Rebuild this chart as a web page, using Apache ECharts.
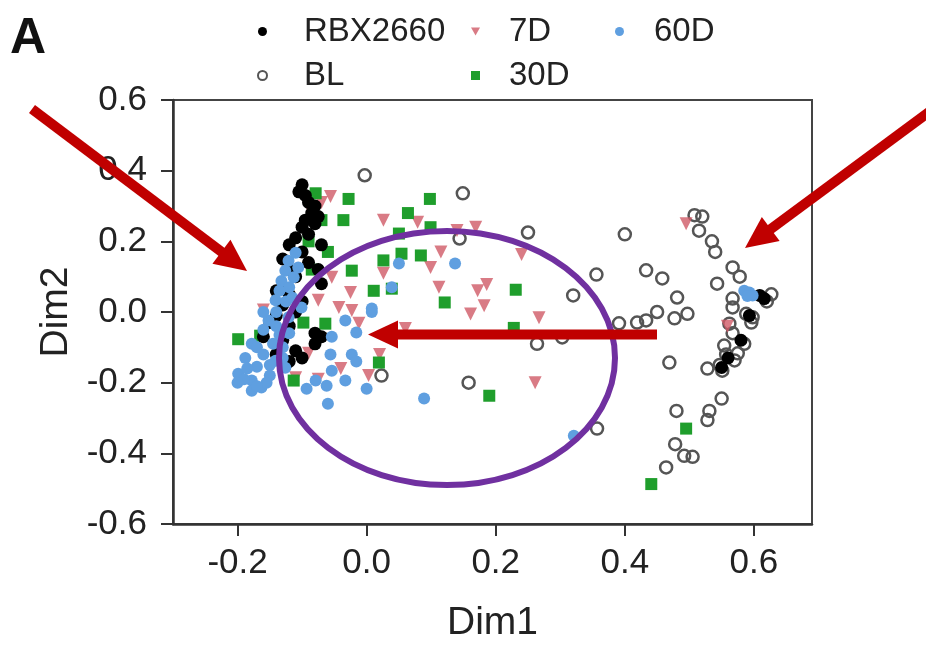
<!DOCTYPE html>
<html lang="en">
<head>
    <meta charset="utf-8" />
    <title>PCoA</title>
    <style>
        html, body { width: 100%; height: 100%; margin: 0; background: #fff; }
        #main { width: 926px; height: 646px; }
    </style>
</head>
<body>
    <div id="main"></div>
    <script src="https://cdn.jsdelivr.net/npm/echarts@6/dist/echarts.min.js"></script>
    <script type="text/javascript">
        // values, [Dim1, Dim2]
        var rbxPts = [
            [-0.10, 0.36], [-0.105, 0.34], [-0.095, 0.33], [-0.09, 0.31], [-0.08, 0.30], [-0.085, 0.28],
            [-0.075, 0.27], [-0.095, 0.26], [-0.08, 0.25], [-0.10, 0.24], [-0.09, 0.22], [-0.11, 0.21],
            [-0.07, 0.19], [-0.12, 0.19], [-0.10, 0.17], [-0.13, 0.15], [-0.09, 0.14], [-0.075, 0.12],
            [-0.12, 0.12], [-0.11, 0.10], [-0.07, 0.08], [-0.13, 0.07], [-0.12, 0.05], [-0.14, 0.06],
            [-0.10, 0.03], [-0.13, 0.02], [-0.11, 0.0], [-0.14, -0.01], [-0.15, -0.03], [-0.12, -0.04],
            [-0.08, -0.06], [-0.16, -0.07], [-0.07, -0.07], [-0.13, -0.08], [-0.08, -0.09], [-0.11, -0.11],
            [-0.14, -0.12], [-0.12, -0.14], [-0.126, -0.15], [-0.10, -0.13],
            [0.609, 0.047], [0.616, 0.038], [0.593, -0.01], [0.55, -0.157], [0.58, -0.08], [0.56, -0.13]
        ];
        var blPts = [
            [-0.003, 0.387], [0.149, 0.336], [0.144, 0.208], [0.25, 0.225], [0.40, 0.22], [0.356, 0.106],
            [0.32, 0.047], [0.264, -0.09], [0.303, -0.072], [0.391, -0.032], [0.419, -0.03], [0.433, -0.024],
            [0.45, 0.0], [0.477, -0.018], [0.497, -0.005], [0.433, 0.118], [0.458, 0.095], [0.481, 0.041],
            [0.469, -0.143], [0.357, -0.33], [0.023, -0.18], [0.158, -0.2],
            [0.508, 0.274], [0.52, 0.27], [0.515, 0.23], [0.535, 0.20], [0.54, 0.17], [0.567, 0.126],
            [0.578, 0.10], [0.543, 0.08], [0.627, 0.05], [0.62, 0.03], [0.567, 0.038], [0.567, 0.013],
            [0.588, -0.005], [0.598, -0.015], [0.596, -0.03], [0.562, -0.033], [0.567, -0.06], [0.554, -0.095],
            [0.585, -0.09], [0.557, -0.12], [0.575, -0.117], [0.57, -0.137], [0.547, -0.15], [0.528, -0.16],
            [0.551, -0.166], [0.48, -0.28], [0.531, -0.28], [0.55, -0.245], [0.528, -0.306], [0.478, -0.374],
            [0.492, -0.407], [0.505, -0.41], [0.464, -0.44]
        ];
        var d7Pts = [
            [-0.056, 0.327], [0.026, 0.26], [0.079, 0.254], [0.14, 0.231], [0.169, 0.24], [0.115, 0.17],
            [0.099, 0.126], [0.24, 0.163], [0.112, 0.07], [0.186, 0.078], [0.172, 0.06], [0.182, 0.018],
            [0.026, 0.11], [-0.054, 0.098], [-0.16, 0.006], [-0.075, 0.033], [-0.025, 0.055], [0.161, -0.006],
            [-0.043, 0.013], [-0.023, 0.004], [-0.012, -0.032], [-0.09, -0.117], [0.003, -0.18], [-0.075, -0.19],
            [0.06, -0.047], [-0.11, -0.186], [0.267, -0.016], [0.261, -0.2], [0.495, 0.25], [0.559, -0.04],
            [-0.04, -0.16], [0.02, -0.12], [-0.085, 0.28], [-0.07, 0.31]
        ];
        var d30Pts = [
            [-0.079, 0.336], [-0.028, 0.32], [0.098, 0.32], [0.064, 0.28], [-0.036, 0.26], [-0.07, 0.26],
            [0.099, 0.24], [0.05, 0.222], [0.084, 0.16], [0.054, 0.165], [0.026, 0.146], [-0.023, 0.117],
            [0.011, 0.06], [0.039, 0.066], [0.121, 0.027], [0.231, 0.063], [0.228, -0.045], [0.19, -0.237],
            [0.495, -0.33], [0.441, -0.487], [-0.199, -0.077], [-0.165, -0.067], [-0.098, -0.03], [-0.064, -0.033],
            [-0.113, -0.194], [0.019, -0.143], [-0.09, 0.2], [-0.085, 0.12], [-0.06, 0.17]
        ];
        var d60Pts = [
            [-0.11, 0.168], [-0.121, 0.145], [-0.126, 0.117], [-0.106, 0.126], [-0.113, 0.098], [-0.132, 0.088],
            [-0.12, 0.07], [-0.135, 0.06], [-0.141, 0.033], [-0.125, 0.03], [-0.101, 0.013], [-0.152, -0.024],
            [-0.121, -0.015], [-0.14, -0.04], [-0.16, -0.05], [-0.12, -0.06], [-0.178, -0.09], [-0.145, -0.09],
            [-0.13, -0.1], [-0.188, -0.13], [-0.16, -0.12], [-0.141, -0.138], [-0.126, -0.158], [-0.17, -0.155],
            [-0.199, -0.175], [-0.178, -0.194], [-0.163, -0.214], [-0.178, -0.223], [-0.15, -0.18], [-0.19, -0.19],
            [-0.155, -0.2], [-0.17, -0.1], [-0.15, -0.15], [-0.185, -0.16], [-0.13, -0.13], [-0.14, 0.0],
            [-0.16, -0.0], [-0.115, 0.04], [-0.135, -0.065], [-0.17, -0.21], [-0.2, -0.2],
            [0.008, 0], [-0.033, -0.024], [-0.016, -0.058], [-0.054, -0.07], [-0.056, -0.12], [-0.023, -0.12],
            [-0.016, -0.14], [-0.054, -0.166], [-0.079, -0.194], [-0.062, -0.209], [-0.033, -0.194], [0.0, -0.217],
            [-0.06, -0.26], [0.089, -0.245], [-0.093, -0.217], [0.05, 0.137], [0.137, 0.137], [0.039, 0.07],
            [0.008, 0.01], [0.321, -0.35], [0.585, 0.06], [0.593, 0.055], [0.598, 0.047], [0.59, 0.045]
        ];
        var xTicks = [-0.2, 0.0, 0.2, 0.4, 0.6];
        var yTicks = [-0.6, -0.4, -0.2, 0.0, 0.2, 0.4, 0.6];

        var chart = echarts.init(document.getElementById('main'));
        var font = 'Liberation Sans, Arial, sans-serif';
        var downTriangle = 'path://M0,0 L10,0 L5,9 Z';

        // arrow = shaft line + triangular head (annotation overlay, pixel coords)
        function arrow(x1, y1, x2, y2, w, hl, hw) {
            var dx = x2 - x1, dy = y2 - y1, L = Math.sqrt(dx * dx + dy * dy);
            var ux = dx / L, uy = dy / L;
            var bx = x2 - ux * hl, by = y2 - uy * hl;
            return [{
                type: 'line', z: 100,
                shape: { x1: x1, y1: y1, x2: bx + ux * 2, y2: by + uy * 2 },
                style: { stroke: '#c00000', lineWidth: w }
            }, {
                type: 'polygon', z: 100,
                shape: { points: [[x2, y2], [bx - uy * hw, by + ux * hw], [bx + uy * hw, by - ux * hw]] },
                style: { fill: '#c00000' }
            }];
        }

        function legendAt(left, pad, data) {
            return {
                orient: 'vertical',
                left: left,
                top: 10,
                itemWidth: 9,
                itemHeight: 9,
                itemGap: 11,
                textStyle: { fontFamily: font, fontSize: 33, color: '#222', padding: [0, 0, 0, pad] },
                data: data
            };
        }

        var graphics = [{
            type: 'text', left: 10, top: 14, z: 100,
            style: { text: 'A', font: 'bold 50px ' + font, fill: '#111' }
        }, {
            type: 'ellipse', z: 100,
            shape: { cx: 447, cy: 358, rx: 168, ry: 127 },
            style: { fill: 'transparent', stroke: '#7030a0', lineWidth: 6 }
        }]
            .concat(arrow(32, 109, 247, 271, 10, 32, 15))
            .concat(arrow(940, 104, 745, 248, 10, 32, 15))
            .concat(arrow(657, 334.5, 368, 334.5, 10, 30, 14));

        var option = {
            animation: false,
            backgroundColor: '#fff',
            grid: {
                left: 173, right: 114, top: 100, bottom: 122,
                outerBoundsMode: 'none', containLabel: false,
                show: true, borderColor: '#444', borderWidth: 2, backgroundColor: 'transparent'
            },
            legend: [
                legendAt(252, 32, ['RBX2660', { name: 'BL', itemStyle: { color: 'transparent', borderColor: '#555', borderWidth: 2 } }]),
                legendAt(466, 24, ['7D', '30D']),
                legendAt(610, 25, ['60D'])
            ],
            xAxis: {
                type: 'value', min: -0.3, max: 0.69,
                name: 'Dim1', nameLocation: 'middle', nameGap: 80,
                nameTextStyle: { fontFamily: font, fontSize: 39, color: '#222' },
                axisLine: { show: true, onZero: false, lineStyle: { color: '#333', width: 2.5 } },
                axisTick: { show: true, length: 12, customValues: xTicks, lineStyle: { color: '#333', width: 2 } },
                axisLabel: {
                    customValues: xTicks, margin: 22,
                    fontFamily: font, fontSize: 35, color: '#222',
                    formatter: function (v) { return v.toFixed(1); }
                },
                splitLine: { show: false }
            },
            yAxis: {
                type: 'value', min: -0.6, max: 0.6,
                name: 'Dim2', nameLocation: 'middle', nameGap: 96, nameRotate: 90,
                nameTextStyle: { fontFamily: font, fontSize: 39, color: '#222' },
                axisLine: { show: true, onZero: false, lineStyle: { color: '#333', width: 2.5 } },
                axisTick: { show: true, length: 12, customValues: yTicks, lineStyle: { color: '#333', width: 2 } },
                axisLabel: {
                    customValues: yTicks, margin: 26,
                    fontFamily: font, fontSize: 35, color: '#222',
                    formatter: function (v) { return v.toFixed(1); }
                },
                splitLine: { show: false }
            },
            series: [{
                name: 'BL', type: 'scatter', data: blPts, symbol: 'circle', symbolSize: 12,
                itemStyle: { color: 'transparent', borderColor: '#555', borderWidth: 2.5, opacity: 1 }
            }, {
                name: '7D', type: 'scatter', data: d7Pts, symbol: downTriangle, symbolSize: 13,
                itemStyle: { color: '#d05a66', opacity: 0.8 }
            }, {
                name: '30D', type: 'scatter', data: d30Pts, symbol: 'rect', symbolSize: 12,
                itemStyle: { color: '#1f9e2c', opacity: 1 }
            }, {
                name: 'RBX2660', type: 'scatter', data: rbxPts, symbol: 'circle', symbolSize: 13,
                itemStyle: { color: '#000', opacity: 1 }
            }, {
                name: '60D', type: 'scatter', data: d60Pts, symbol: 'circle', symbolSize: 12,
                itemStyle: { color: '#5f9fe0', opacity: 1 }
            }],
            graphic: graphics
        };

        chart.setOption(option);
    </script>
</body>
</html>
